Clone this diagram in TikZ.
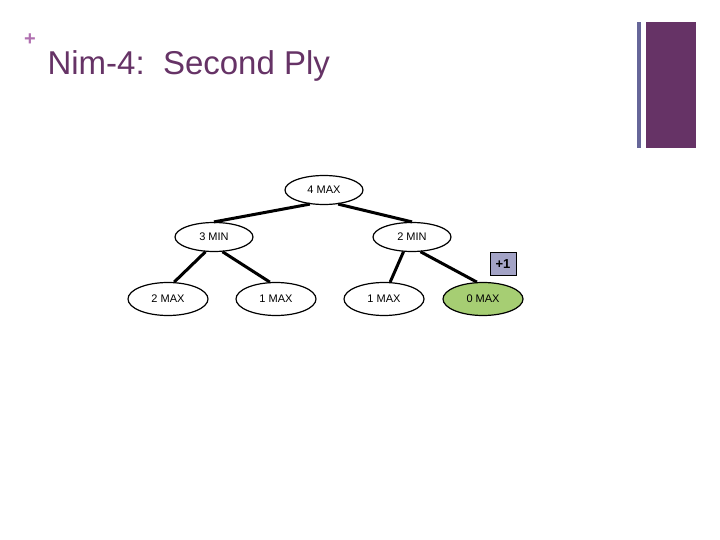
\documentclass[tikz,border=0pt]{standalone}
\usepackage{fontspec}
\setmainfont{Liberation Sans}
\usetikzlibrary{shapes.geometric}
\definecolor{plum}{HTML}{663366}
\definecolor{slate}{HTML}{666699}
\definecolor{plus}{HTML}{B070B0}
\definecolor{leafgreen}{HTML}{A6CE73}
\definecolor{boxblue}{HTML}{A3A3C6}
\tikzset{
  st/.style={ellipse, draw=black, line width=1.2pt, fill=white, minimum width=78pt, minimum height=29pt, inner sep=0pt, font=\fontsize{11}{13}\selectfont},
  lf/.style={st, minimum width=80pt, minimum height=33pt},
  edge/.style={line width=3pt}
}
\begin{document}
\begin{tikzpicture}[x=1pt,y=-1pt]
\useasboundingbox (0,0) rectangle (720,540);
\fill[slate] (637,22) rectangle (641,148);
\fill[plum] (646,22) rectangle (696,148);
\node[text=plus, font=\bfseries\fontsize{20}{20}\selectfont] (plus) at (30,40) {+};
\node[text=plum, anchor=west, font=\fontsize{33}{36}\selectfont] (title) at (44,66) {Nim-4:\ \ Second Ply};
\node[st] (a) at (324,190) {4 MAX};
\node[st] (b) at (214,237) {3 MIN};
\node[st] (c) at (412,237) {2 MIN};
\node[lf] (d) at (168,299) {2 MAX};
\node[lf] (e) at (276,299) {1 MAX};
\node[lf] (f) at (384,299) {1 MAX};
\node[lf, fill=leafgreen] (g) at (483,299) {0 MAX};
\node[draw=black, fill=boxblue, minimum width=26pt, minimum height=23pt, inner sep=0pt, font=\bfseries\fontsize{13}{13}\selectfont, line width=0.6pt] (v) at (503,264) {+1};
\begin{scope}[on background layer/.try]
\end{scope}
\draw[edge] (a.225) -- (b.north);
\draw[edge] (a.315) -- (c.north);
\draw[edge] (b.240) -- (d.70);
\draw[edge] (b.300) -- (e.110);
\draw[edge] (c.240) -- (f.70);
\draw[edge] (c.300) -- (g.110);
\end{tikzpicture}
\end{document}
